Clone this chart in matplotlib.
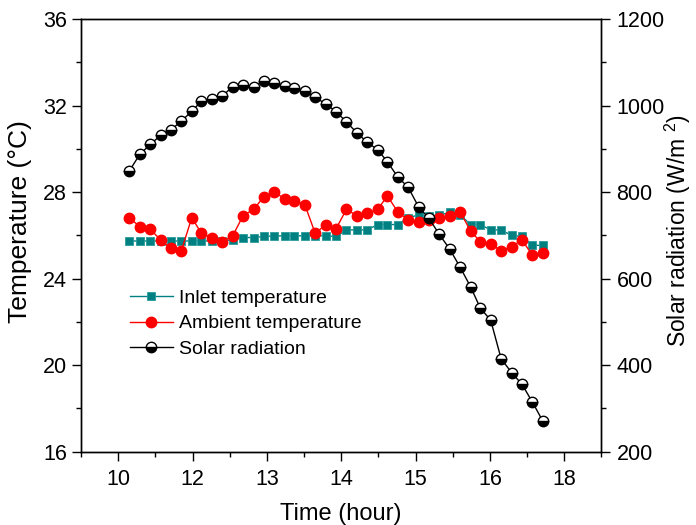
import matplotlib
matplotlib.use("Agg")
import matplotlib.pyplot as plt
from matplotlib.ticker import MultipleLocator, FixedLocator, FixedFormatter

plt.rcParams['font.family'] = ['Liberation Sans', 'DejaVu Sans']
plt.rcParams['mathtext.fontset'] = 'custom'
plt.rcParams['mathtext.rm'] = 'Liberation Sans'
plt.rcParams['mathtext.it'] = 'Liberation Sans'

# time (hour)
time_h = [11.15, 11.29, 11.43, 11.57, 11.71, 11.85, 11.99, 12.12, 12.26, 12.40,
          12.54, 12.68, 12.82, 12.96, 13.10, 13.24, 13.37, 13.51, 13.65, 13.79,
          13.93, 14.07, 14.21, 14.35, 14.49, 14.62, 14.76, 14.90, 15.04, 15.18,
          15.32, 15.46, 15.60, 15.74, 15.87, 16.01, 16.15, 16.29, 16.43, 16.57,
          16.71]

inlet_temp = [25.74, 25.74, 25.74, 25.74, 25.74, 25.74, 25.74, 25.74, 25.74, 25.74,
              25.80, 25.90, 25.90, 25.95, 25.97, 25.98, 25.98, 25.98, 25.98, 25.98,
              25.95, 26.25, 26.25, 26.25, 26.50, 26.50, 26.50, 26.82, 26.94, 26.90,
              26.94, 27.06, 26.94, 26.50, 26.50, 26.25, 26.25, 26.00, 25.95, 25.54,
              25.54]

ambient_temp = [26.82, 26.40, 26.29, 25.79, 25.40, 25.29, 26.82, 26.09, 25.89, 25.71,
                25.98, 26.91, 27.20, 27.79, 28.00, 27.69, 27.60, 27.42, 26.09, 26.49,
                26.31, 27.20, 26.91, 27.02, 27.20, 27.82, 27.09, 26.71, 26.62, 26.71,
                26.82, 26.91, 27.08, 26.20, 25.71, 25.60, 25.29, 25.48, 25.79, 25.09,
                25.20]

solar_rad = [849, 887, 910, 931, 944, 964, 987, 1010, 1015, 1022,
             1044, 1047, 1044, 1057, 1051, 1045, 1040, 1033, 1019, 1004,
             986, 962, 937, 915, 898, 870, 835, 811, 766, 739,
             702, 668, 626, 581, 532, 504, 415, 383, 356, 315,
             271]

x_tick_pos = [11, 12, 13, 14, 15, 16, 17]
x_tick_labels = ['10', '12', '13', '14', '15', '16', '18']

fig = plt.figure(figsize=(6.96, 5.25), dpi=100)
ax = fig.add_axes([0.1164, 0.1396, 0.7478, 0.8242])
ax2 = ax.twinx()

teal = '#008080'
l1, = ax.plot(time_h, inlet_temp, color=teal, lw=1.0, marker='s', ms=5.5,
              mfc=teal, mec='#2a9a9a', mew=0.6, label='Inlet temperature')
l2, = ax.plot(time_h, ambient_temp, color='#ff0000', lw=1.0, marker='o', ms=7.5,
              mfc='#ff0000', mec='#ff0000', label='Ambient temperature')
l3, = ax2.plot(time_h, solar_rad, color='black', lw=1.0, marker='o', ms=7.5,
               fillstyle='bottom', mfc='black', mfcalt='white', mec='black', mew=1.0,
               label='Solar radiation')

ax.set_xlim(10.5, 17.5)
ax.set_ylim(16, 36)
ax2.set_ylim(200, 1200)

ax.xaxis.set_major_locator(FixedLocator(x_tick_pos))
ax.xaxis.set_major_formatter(FixedFormatter(x_tick_labels))
ax.xaxis.set_minor_locator(MultipleLocator(0.5))
ax.yaxis.set_major_locator(MultipleLocator(4))
ax.yaxis.set_minor_locator(MultipleLocator(2))
ax2.yaxis.set_major_locator(MultipleLocator(200))
ax2.yaxis.set_minor_locator(MultipleLocator(100))

for a in (ax, ax2):
    a.tick_params(which='major', direction='out', length=6.5, width=1.0, labelsize=15.5)
    a.tick_params(which='minor', direction='out', length=3.3, width=1.0)
    for s in a.spines.values():
        s.set_linewidth(1.0)
ax.tick_params(axis='x', which='both', top=False)
ax.tick_params(axis='x', pad=6)
ax.tick_params(axis='y', pad=3.5)
ax2.tick_params(axis='y', pad=4.3)

ax.set_xlabel('Time (hour)', fontsize=17, labelpad=9)
ax.set_ylabel('Temperature (°C)', fontsize=19)
ax.yaxis.set_label_coords(-0.094, 0.533)
ax2.set_ylabel('Solar radiation (W/m $^{2}$)', fontsize=16.5)
ax2.yaxis.set_label_coords(1.117, 0.51)

ax2.legend(handles=[l1, l2, l3], loc='upper left', bbox_to_anchor=(0.094, 0.375),
           frameon=False, fontsize=14, borderpad=0, borderaxespad=0,
           handlelength=2.2, handletextpad=0.3, labelspacing=0.4)

fig.savefig('out.png', dpi=100)
